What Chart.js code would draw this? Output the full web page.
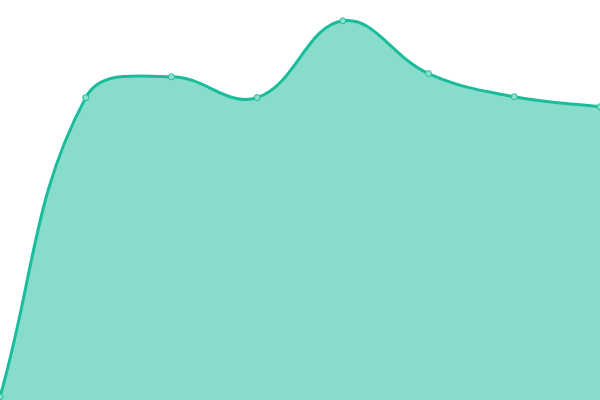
<!DOCTYPE html>
<html>
<head>
<meta charset="utf-8">
<script src="https://cdn.jsdelivr.net/npm/chart.js@4"></script>
<style>
  html, body { margin: 0; padding: 0; background: #fff; }
  #wrap { width: 600px; height: 400px; }
</style>
</head>
<body>
<div id="wrap"><canvas id="chart"></canvas></div>
<script>
// values, y scale 0..100
const labels = ['1', '2', '3', '4', '5', '6', '7', '8'];
const values = [0.8, 75.6, 80.8, 75.6, 94.8, 81.6, 75.8, 73.3];

const lineColor = '#1abc9c';

new Chart(document.getElementById('chart').getContext('2d'), {
  type: 'line',
  data: {
    labels: labels,
    datasets: [{
      data: values,
      borderColor: lineColor,
      backgroundColor: 'rgba(26, 188, 156, 0.52)',
      borderWidth: 3,
      fill: true,
      tension: 0.4,
      pointRadius: 3,
      pointBorderWidth: 1,
      pointBackgroundColor: 'rgba(140, 224, 205, 1)',
      pointBorderColor: lineColor
    }]
  },
  options: {
    responsive: true,
    maintainAspectRatio: false,
    animation: false,
    layout: { padding: 0, autoPadding: false },
    scales: {
      x: { display: false, offset: false },
      y: { display: false, min: 0, max: 100 }
    },
    plugins: {
      legend: { display: false },
      tooltip: { enabled: false }
    }
  }
});
</script>
</body>
</html>
